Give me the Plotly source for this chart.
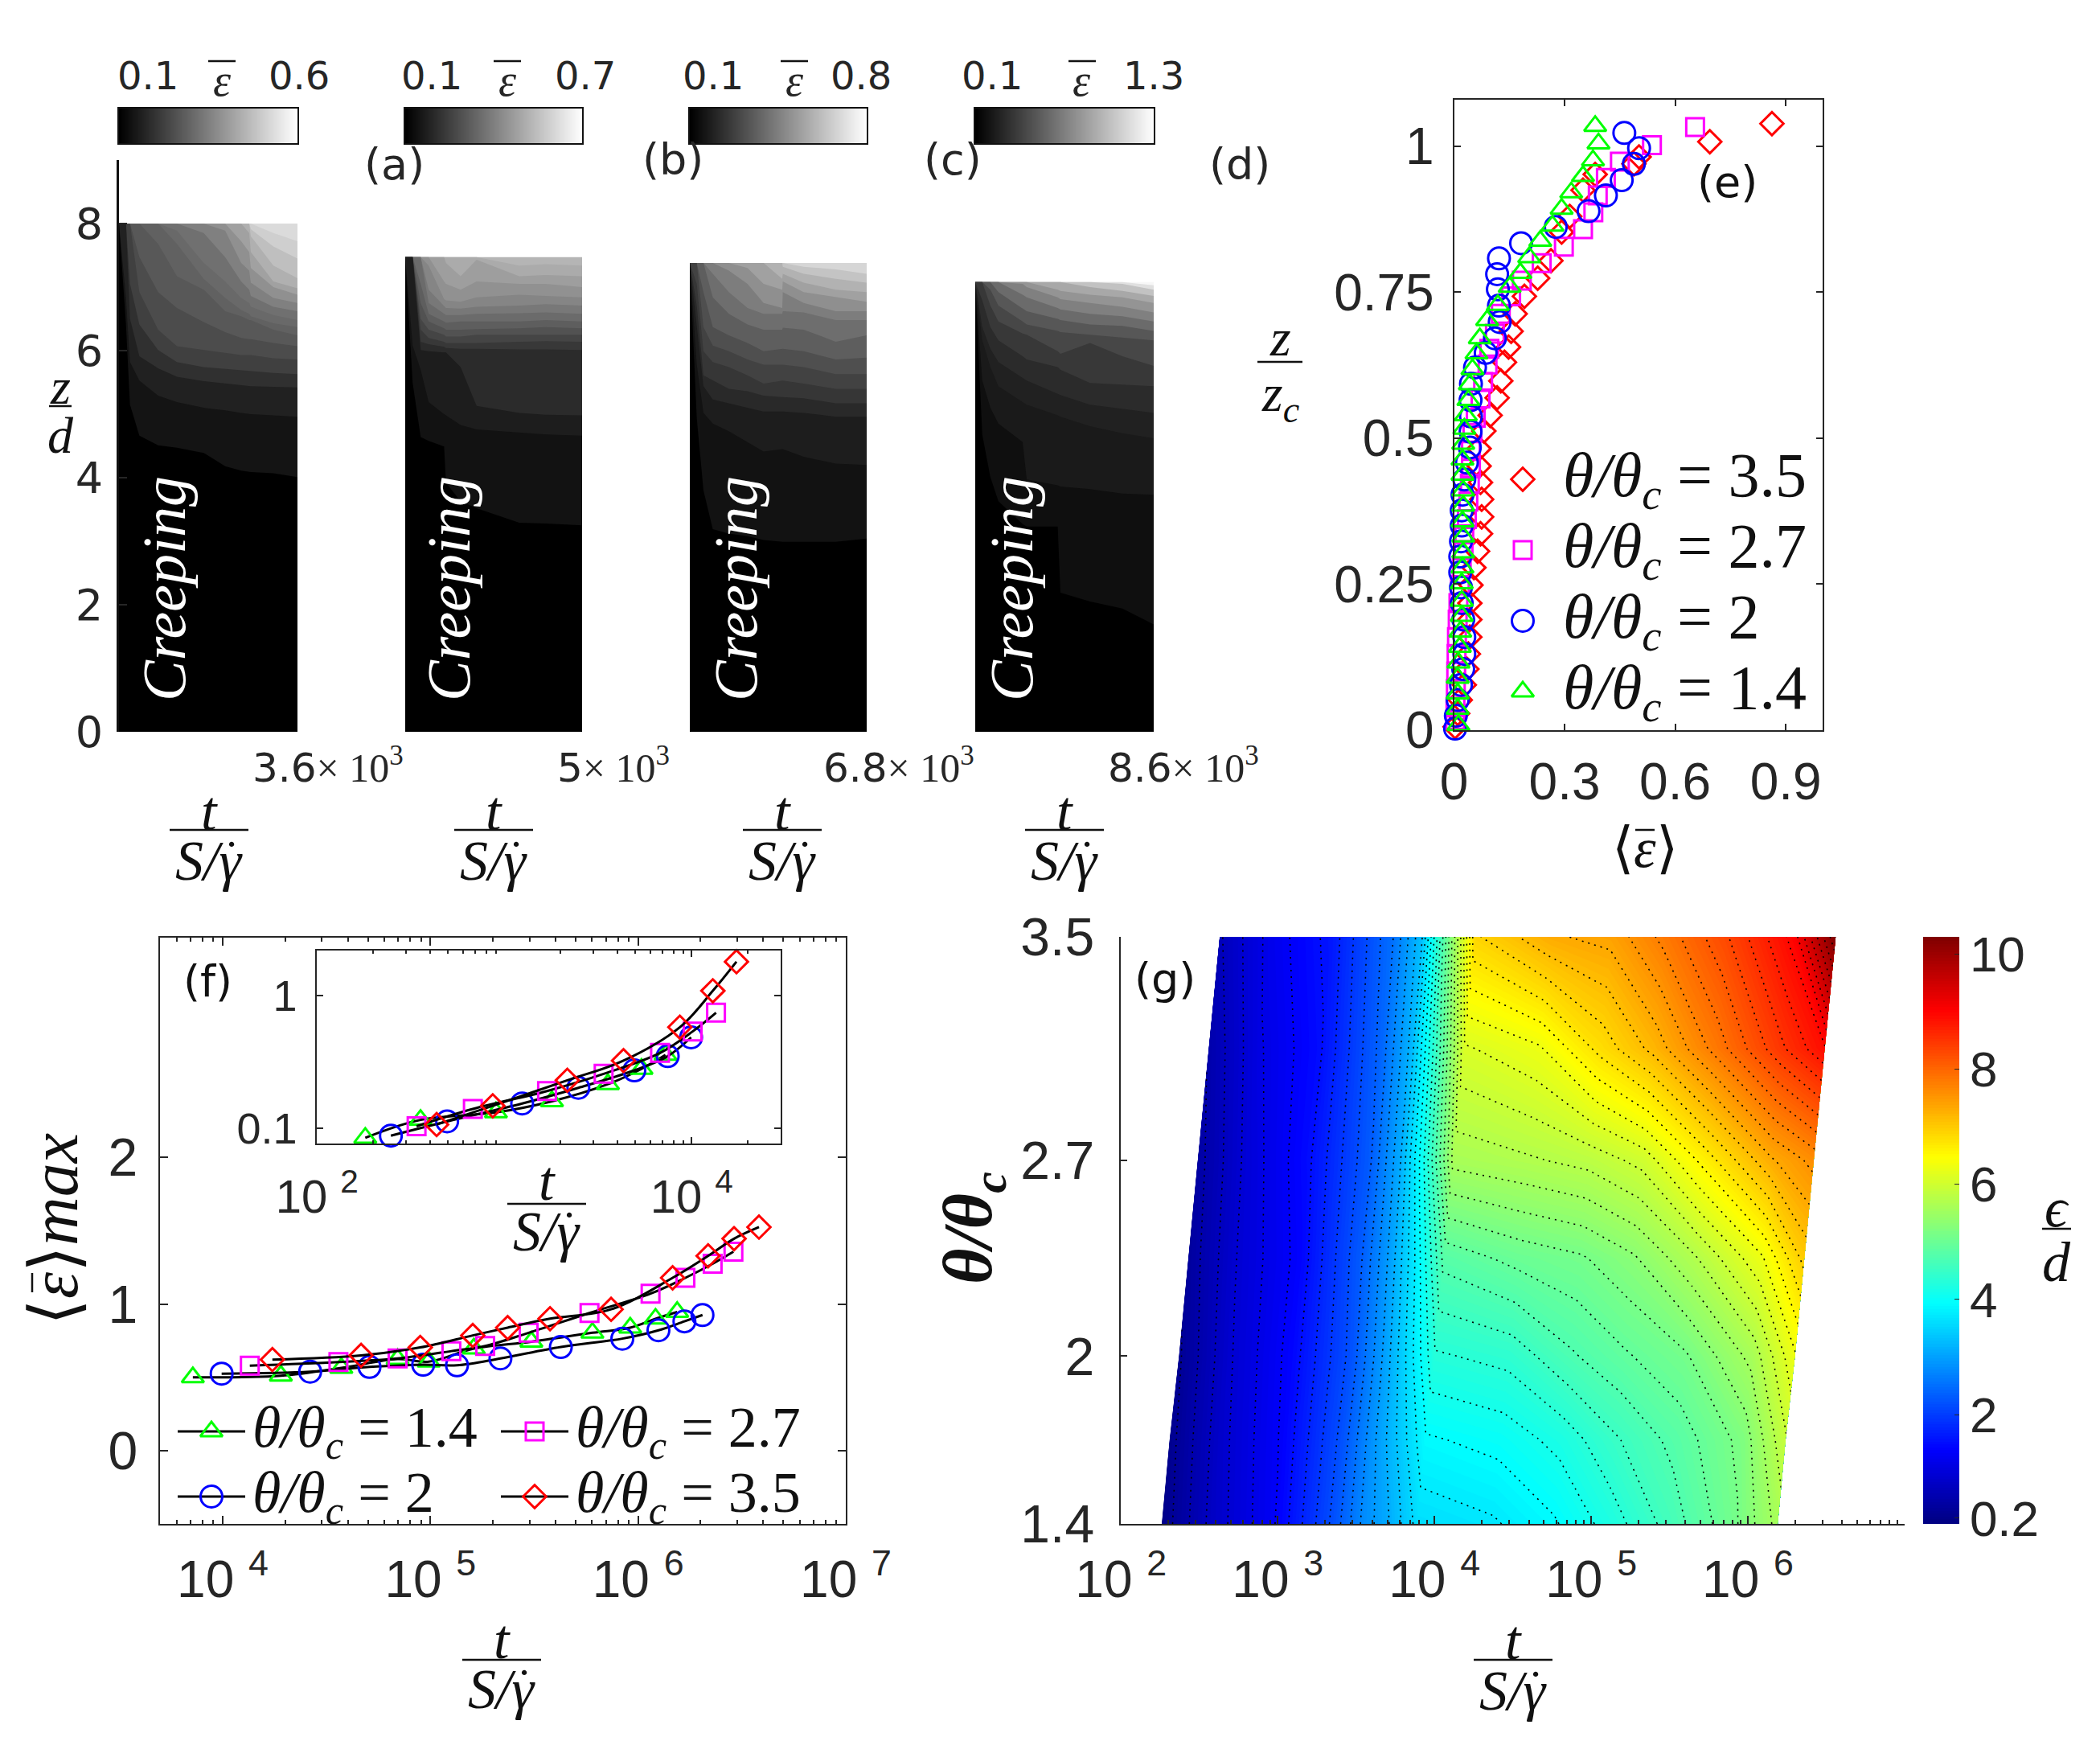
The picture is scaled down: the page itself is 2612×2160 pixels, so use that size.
import numpy as np
import plotly.graph_objects as go

W, H = 2612, 2160
OFF = 8  # margem padrao do body da pagina
INK = "#262626"
SANS = "Liberation Sans"
DEJA = "DejaVu Sans"
SERIF = "Liberation Serif"
RED, MAG, BLUE, GREEN = "#ff0000", "#ff00ff", "#0000ff", "#00ff00"

# Paineis (a)-(d): tempo, alturas das fronteiras entre faixas de cinza, tom de cada faixa
a_t = [0, 141, 222, 411, 789, 1168, 1708, 2141, 2465, 2627, 2659, 3114, 3600]
a_top = [8.0] * 13
a_bounds = [
    [8.0, 6.41, 5.15, 4.66, 4.51, 4.47, 4.39, 4.18, 4.11, 4.09, 4.09, 4.07, 4.01],
    [8.0, 6.83, 5.82, 5.53, 5.29, 5.19, 5.10, 5.06, 5.02, 5.00, 5.00, 4.98, 4.96],
    [8.0, 8.0, 6.50, 5.91, 5.72, 5.59, 5.52, 5.48, 5.45, 5.44, 5.44, 5.43, 5.42],
    [8.0, 8.0, 7.05, 6.41, 6.01, 5.82, 5.74, 5.71, 5.69, 5.68, 5.68, 5.65, 5.63],
    [8.0, 8.0, 8.0, 6.92, 6.33, 6.07, 6.01, 5.97, 5.93, 5.93, 5.93, 5.88, 5.86],
    [8.0, 8.0, 8.0, 7.47, 6.92, 6.67, 6.45, 6.29, 6.20, 6.18, 6.18, 6.12, 6.07],
    [8.0, 8.0, 8.0, 8.0, 7.68, 7.17, 6.96, 6.62, 6.54, 6.48, 6.48, 6.33, 6.24],
    [8.0, 8.0, 8.0, 8.0, 8.0, 7.68, 7.13, 6.83, 6.64, 6.58, 6.54, 6.43, 6.37],
    [8.0, 8.0, 8.0, 8.0, 8.0, 7.89, 7.38, 7.09, 6.83, 6.75, 6.69, 6.56, 6.48],
    [8.0, 8.0, 8.0, 8.0, 8.0, 8.0, 7.85, 7.47, 7.09, 6.96, 6.86, 6.69, 6.62],
    [8.0, 8.0, 8.0, 8.0, 8.0, 8.0, 8.0, 7.89, 7.38, 7.26, 7.07, 6.83, 6.75],
    [8.0, 8.0, 8.0, 8.0, 8.0, 8.0, 8.0, 8.0, 7.72, 7.55, 7.30, 7.00, 6.88],
    [8.0, 8.0, 8.0, 8.0, 8.0, 8.0, 8.0, 8.0, 8.0, 7.85, 7.55, 7.09, 6.98],
    [8.0, 8.0, 8.0, 8.0, 8.0, 8.0, 8.0, 8.0, 8.0, 8.0, 7.80, 7.34, 7.14],
    [8.0, 8.0, 8.0, 8.0, 8.0, 8.0, 8.0, 8.0, 8.0, 8.0, 7.91, 7.64, 7.45],
    [8.0, 8.0, 8.0, 8.0, 8.0, 8.0, 8.0, 8.0, 8.0, 8.0, 8.0, 7.85, 7.72],
]
a_shades = [0, .08, .13, .19, .25, .30, .345, .38, .41, .44, .50, .565, .63, .69, .75, .81, .86]

b_t = [0, 211, 437, 663, 1099, 1152, 1566, 2018, 3223, 3976, 5000]
b_top = [7.47] * 11
b_bounds = [
    [7.47, 5.49, 4.64, 4.58, 4.49, 3.92, 3.63, 3.52, 3.29, 3.28, 3.25],
    [7.47, 6.08, 5.70, 5.19, 5.00, 4.98, 4.83, 4.76, 4.71, 4.68, 4.66],
    [7.47, 7.47, 6.01, 5.99, 5.97, 5.97, 5.74, 5.13, 5.02, 4.99, 4.98],
    [7.47, 7.47, 6.14, 6.10, 6.06, 6.04, 6.03, 6.03, 6.02, 6.02, 6.01],
    [7.47, 7.47, 6.33, 6.20, 6.14, 6.12, 6.12, 6.12, 6.14, 6.15, 6.14],
    [7.47, 7.47, 6.50, 6.33, 6.25, 6.22, 6.22, 6.25, 6.25, 6.25, 6.25],
    [7.47, 7.47, 6.75, 6.46, 6.35, 6.33, 6.33, 6.34, 6.35, 6.37, 6.35],
    [7.47, 7.47, 7.05, 6.58, 6.46, 6.44, 6.46, 6.46, 6.46, 6.48, 6.46],
    [7.47, 7.47, 7.47, 6.75, 6.58, 6.56, 6.56, 6.58, 6.59, 6.60, 6.58],
    [7.47, 7.47, 7.47, 6.96, 6.69, 6.67, 6.66, 6.69, 6.71, 6.73, 6.71],
    [7.47, 7.47, 7.47, 7.34, 6.81, 6.79, 6.77, 6.84, 6.88, 6.86, 6.84],
    [7.47, 7.47, 7.47, 7.47, 7.09, 7.05, 6.96, 7.09, 7.05, 7.05, 7.00],
    [7.47, 7.47, 7.47, 7.47, 7.47, 7.38, 7.17, 7.43, 7.17, 7.19, 7.17],
    [7.47, 7.47, 7.47, 7.47, 7.47, 7.47, 7.47, 7.47, 7.34, 7.36, 7.34],
]
b_shades = [0, .07, .115, .17, .22, .27, .32, .37, .42, .47, .52, .57, .62, .67, .71]

c_t = [0, 267, 524, 883, 1500, 2219, 2835, 3554, 3575, 4376, 5609, 6800]
c_top = [7.38] * 12
c_bounds = [
    [7.38, 4.94, 3.80, 3.19, 3.12, 3.08, 3.02, 2.99, 2.99, 2.99, 2.99, 3.04],
    [7.38, 5.78, 5.02, 4.85, 4.73, 4.56, 4.41, 4.45, 4.45, 4.33, 4.22, 4.20],
    [7.38, 6.41, 5.44, 5.23, 5.17, 5.10, 5.04, 5.04, 5.04, 5.02, 4.96, 4.96],
    [7.38, 6.71, 5.61, 5.53, 5.40, 5.36, 5.29, 5.27, 5.27, 5.25, 5.17, 5.17],
    [7.38, 7.05, 5.99, 5.82, 5.74, 5.61, 5.48, 5.53, 5.53, 5.48, 5.40, 5.40],
    [7.38, 7.38, 6.37, 6.08, 5.99, 5.86, 5.78, 5.78, 5.78, 5.74, 5.63, 5.63],
    [7.38, 7.38, 6.92, 6.37, 6.24, 6.12, 5.99, 6.03, 6.03, 5.99, 5.86, 5.89],
    [7.38, 7.38, 7.38, 6.84, 6.58, 6.41, 6.33, 6.33, 6.36, 6.33, 6.14, 6.24],
    [7.38, 7.38, 7.38, 7.21, 6.92, 6.67, 6.58, 6.58, 6.62, 6.60, 6.48, 6.48],
    [7.38, 7.38, 7.38, 7.38, 7.26, 7.05, 6.75, 6.67, 6.92, 6.75, 6.62, 6.62],
    [7.38, 7.38, 7.38, 7.38, 7.38, 7.30, 7.05, 6.96, 7.09, 6.92, 6.84, 6.77],
    [7.38, 7.38, 7.38, 7.38, 7.38, 7.38, 7.38, 7.13, 7.21, 7.07, 6.96, 6.92],
    [7.38, 7.38, 7.38, 7.38, 7.38, 7.38, 7.38, 7.38, 7.32, 7.21, 7.13, 7.07],
    [7.38, 7.38, 7.38, 7.38, 7.38, 7.38, 7.38, 7.38, 7.38, 7.32, 7.28, 7.21],
]
c_shades = [0, .07, .115, .16, .21, .26, .31, .37, .43, .49, .56, .63, .70, .77, .84]

d_t = [0, 338, 728, 1117, 2286, 2481, 3975, 4105, 5534, 7093, 8600]
d_top = [7.08] * 11
d_bounds = [
    [7.08, 4.68, 4.01, 3.63, 3.27, 3.23, 3.23, 2.19, 2.05, 1.94, 1.69],
    [7.08, 5.53, 5.10, 4.85, 4.56, 3.97, 3.88, 3.86, 3.82, 3.75, 3.73],
    [7.08, 6.16, 5.74, 5.44, 5.19, 5.15, 4.98, 4.96, 4.81, 4.70, 4.62],
    [7.08, 6.37, 6.03, 5.82, 5.57, 5.53, 5.32, 5.30, 5.15, 5.08, 5.02],
    [7.08, 6.79, 6.37, 6.16, 5.91, 5.86, 5.74, 5.70, 5.49, 5.46, 5.44],
    [7.08, 7.08, 6.71, 6.46, 6.27, 6.25, 5.99, 5.95, 6.12, 5.91, 5.76],
    [7.08, 7.08, 6.96, 6.71, 6.46, 6.41, 6.31, 6.29, 6.25, 6.20, 6.16],
    [7.08, 7.08, 7.08, 6.92, 6.67, 6.62, 6.50, 6.48, 6.41, 6.39, 6.31],
    [7.08, 7.08, 7.08, 7.08, 6.88, 6.84, 6.67, 6.65, 6.58, 6.54, 6.46],
    [7.08, 7.08, 7.08, 7.08, 7.05, 7.00, 6.84, 6.81, 6.75, 6.69, 6.60],
    [7.08, 7.08, 7.08, 7.08, 7.08, 7.08, 6.96, 6.94, 6.88, 6.84, 6.75],
    [7.08, 7.08, 7.08, 7.08, 7.08, 7.08, 7.08, 7.08, 7.00, 6.94, 6.86],
    [7.08, 7.08, 7.08, 7.08, 7.08, 7.08, 7.08, 7.08, 7.08, 7.05, 6.96],
    [7.08, 7.08, 7.08, 7.08, 7.08, 7.08, 7.08, 7.08, 7.08, 7.08, 7.03],
]
d_shades = [0, .06, .10, .13, .17, .22, .28, .34, .42, .50, .58, .66, .76, .88, .97]

cbar_hi = [0.6, 0.7, 0.8, 1.3]
end_labels = ["3.6", "5", "6.8", "8.6"]

# Painel (e)
e35_x = [.8625, .694, .502, .488, .383, .350, .314, .292, .263, .227, .191, .166, .155, .148, .137, .127, .117, .098, .081, .068, .068, .072, .075, .075, .072, .064, .054, .046, .043, .043, .043, .039, .035, .028, .017, .010, .003]
e35_y = [1.039, 1.008, .982, .970, .952, .925, .880, .853, .804, .774, .743, .713, .683, .656, .630, .598, .569, .539, .512, .482, .452, .424, .395, .365, .336, .306, .278, .248, .217, .189, .159, .130, .104, .077, .051, .028, .005]
e27_x = [.654, .537, .450, .412, .390, .378, .350, .298, .238, .184, .155, .127, .111, .096, .091, .079, .072, .059, .050, .046, .046, .043, .039, .035, .028, .026, .021, .016, .012, .010, .008, .007, .006, .005, .004, .003]
e27_y = [1.033, 1.002, .974, .946, .916, .887, .858, .828, .800, .770, .743, .713, .679, .653, .626, .596, .568, .535, .509, .478, .448, .422, .391, .361, .335, .308, .278, .248, .217, .189, .159, .130, .100, .070, .039, .017]
e20_x = [.462, .502, .488, .455, .412, .365, .276, .182, .122, .117, .119, .122, .124, .111, .086, .057, .046, .045, .046, .045, .043, .035, .028, .023, .021, .021, .019, .017, .017, .019, .021, .025, .028, .028, .025, .019, .010, .005, .003]
e20_y = [1.023, .997, .970, .942, .916, .889, .862, .834, .808, .781, .755, .727, .699, .671, .646, .621, .593, .565, .537, .511, .484, .458, .429, .403, .376, .350, .323, .297, .270, .244, .217, .189, .159, .130, .104, .077, .051, .024, .002]
e14_x = [.383, .392, .377, .350, .318, .292, .267, .234, .204, .180, .151, .119, .090, .070, .061, .050, .043, .039, .032, .028, .025, .023, .023, .025, .025, .023, .025, .025, .023, .021, .021, .021, .017, .016, .012, .010, .010, .010, .012]
e14_y = [1.035, 1.005, .976, .949, .921, .893, .864, .838, .810, .783, .759, .728, .702, .671, .645, .618, .592, .565, .539, .516, .490, .463, .437, .410, .384, .357, .331, .304, .278, .251, .221, .195, .168, .142, .115, .089, .062, .036, .008]

# Painel (f), principal
f14_x = [7180, 19050, 37240, 69500, 98200, 161800, 306200, 602600, 916200, 1213000, 1542000]
f14_y = [.500, .511, .564, .625, .607, .696, .743, .804, .839, .900, .946]
f20_x = [9880, 26360, 50900, 92300, 134300, 217300, 424600, 839500, 1253000, 1671000, 2042000]
f20_y = [.525, .539, .571, .586, .582, .629, .707, .764, .821, .882, .925]
f27_x = [13500, 36060, 69500, 126200, 183600, 297200, 583400, 1148000, 1690000, 2286000, 2877000]
f27_y = [.579, .604, .629, .679, .714, .804, .939, 1.071, 1.179, 1.275, 1.357]
f35_x = [17340, 46350, 89330, 159900, 235500, 376700, 741300, 1466000, 2173000, 2897000, 3819000]
f35_y = [.621, .650, .704, .786, .839, .900, .964, 1.179, 1.329, 1.446, 1.525]

# Painel (f), inserido
i14_x = [181, 357, 902, 1795, 3573, 5395, 7244]
i14_y = [.0851, .116, .132, .160, .215, .280, .357]
i20_x = [248, 495, 1245, 2484, 4943, 7450, 9930]
i20_y = [.0883, .113, .154, .202, .273, .349, .483]
i27_x = [340, 679, 1690, 3388, 6776, 10120, 13490]
i27_y = [.104, .140, .191, .257, .369, .535, .740]
i35_x = [435, 867, 2168, 4325, 8650, 12970, 17340]
i35_y = [.107, .148, .230, .323, .576, 1.08, 1.786]

# Painel (g): log10(t) e epsilon/d em cada no da malha inclinada
g_theta = [1.4, 1.7, 2.0, 2.35, 2.7, 3.1, 3.5]
g_logt = [
    [2.26, 2.58, 2.97, 3.36, 3.55, 3.70, 3.89, 4.37, 4.76, 5.10, 5.49, 5.92, 6.19],
    [2.31, 2.63, 3.02, 3.41, 3.60, 3.75, 3.94, 4.42, 4.81, 5.15, 5.54, 5.97, 6.24],
    [2.37, 2.69, 3.08, 3.47, 3.66, 3.81, 4.00, 4.48, 4.87, 5.21, 5.60, 6.03, 6.30],
    [2.43, 2.75, 3.14, 3.53, 3.72, 3.87, 4.06, 4.54, 4.93, 5.27, 5.66, 6.09, 6.36],
    [2.49, 2.81, 3.20, 3.59, 3.78, 3.93, 4.12, 4.60, 4.99, 5.33, 5.72, 6.15, 6.42],
    [2.56, 2.88, 3.27, 3.66, 3.85, 4.00, 4.19, 4.67, 5.06, 5.40, 5.79, 6.22, 6.49],
    [2.63, 2.95, 3.34, 3.73, 3.92, 4.07, 4.26, 4.74, 5.13, 5.47, 5.86, 6.29, 6.56],
]
g_eps = [
    [.20, .80, 1.30, 2.20, 2.80, 3.10, 3.60, 3.70, 3.90, 4.20, 4.60, 5.10, 5.60],
    [.25, .85, 1.35, 2.20, 2.85, 3.30, 3.90, 4.00, 4.20, 4.50, 4.80, 5.20, 5.90],
    [.30, .90, 1.40, 2.20, 2.90, 3.50, 4.30, 4.40, 4.70, 4.90, 5.10, 5.60, 6.30],
    [.40, .95, 1.40, 2.30, 3.00, 3.70, 4.80, 5.00, 5.10, 5.30, 5.70, 6.30, 7.00],
    [.45, 1.00, 1.50, 2.30, 3.10, 4.10, 5.60, 5.70, 5.80, 6.00, 6.60, 7.30, 7.60],
    [.55, 1.10, 1.50, 2.40, 3.20, 4.40, 6.10, 6.30, 6.80, 7.20, 7.80, 8.50, 8.90],
    [.70, 1.20, 1.60, 2.50, 3.30, 4.90, 6.90, 7.30, 7.40, 7.80, 8.30, 9.00, 10.30],
]
g_ticks_y = [1.4, 2, 2.7, 3.5]
jet = [[0, "rgb(0,0,131)"], [.125, "rgb(0,0,255)"], [.375, "rgb(0,255,255)"],
       [.625, "rgb(255,255,0)"], [.875, "rgb(255,0,0)"], [1, "rgb(128,0,0)"]]

fig = go.Figure()
layout = {}
n_axes = 0


def new_axes(x0, x1, y0, y1, xopts, yopts, shift=True):
    # caixa em pixels da pagina -> dominio do eixo
    global n_axes
    n_axes += 1
    off = OFF if shift else 0
    xa = dict(domain=[(x0 - off) / W, (x1 - off) / W], anchor=f"y{n_axes}", showgrid=False, zeroline=False, **xopts)
    ya = dict(domain=[1 - (y1 - off) / H, 1 - (y0 - off) / H], anchor=f"x{n_axes}", showgrid=False, zeroline=False, **yopts)
    layout[f"xaxis{n_axes}"] = xa
    layout[f"yaxis{n_axes}"] = ya
    return f"x{n_axes}", f"y{n_axes}"


notes = []
lines = []


def text(x, y, s, size=46, font=DEJA, color=INK, anchor="center", angle=0):
    notes.append(dict(x=(x - OFF) / W, y=1 - (y - OFF) / H, xref="paper", yref="paper", text=s, showarrow=False,
                      xanchor=anchor, yanchor="middle", textangle=angle,
                      font=dict(size=size, family=font, color=color)))


def rule(x0, y0, x1, y1, width=2.5):
    lines.append(dict(type="line", xref="paper", yref="paper", x0=(x0 - OFF) / W, x1=(x1 - OFF) / W,
                      y0=1 - (y0 - OFF) / H, y1=1 - (y1 - OFF) / H, line=dict(color="#111111", width=width)))


def frac(cx, ytop, yline, ybot, half, top, bottom, size=70):
    text(cx, ytop, top, size=size, font=SERIF, color="#111111")
    text(cx, ybot, bottom, size=size, font=SERIF, color="#111111")
    rule(cx - half, yline, cx + half, yline)


def time_frac(cx, ytop, yline, ybot):
    # t / (S / gamma ponto); o ponto vai como texto proprio para ficar sobre o gama
    frac(cx, ytop, yline, ybot, 49, "<i>t</i>", "<i>S/\u03b3</i>")
    text(cx + 28, ybot - 4, "\u02d9", size=60, font=SERIF, color="#111111")


EPS = "<i>\u03b5</i>"
BOX = dict(showline=True, linecolor=INK, linewidth=2, mirror="ticks", ticks="inside",
           tickcolor=INK, tickwidth=2)

# Paineis (a)-(d)
panels = [
    (a_t, a_top, a_bounds, a_shades, 148, 370),
    (b_t, b_top, b_bounds, b_shades, 504, 724),
    (c_t, c_top, c_bounds, c_shades, 858, 1078),
    (d_t, d_top, d_bounds, d_shades, 1213, 1435),
]
cbar_text_x = [(184, 276, 372), (537, 631, 728), (887, 988, 1071), (1234, 1346, 1435)]
end_x = [504, 835, 1214, 1568]
frac_x = [260, 614, 973, 1324]
creep_x = [204, 558, 915, 1258]
for k, (t, top, bounds, shades, x0, x1) in enumerate(panels):
    if k == 0:
        yo = dict(range=[0, 9], tickvals=[0, 2, 4, 6, 8], showline=True, linecolor="#111111", linewidth=3,
                  ticks="inside", ticklen=10, tickcolor=INK, tickwidth=2,
                  tickfont=dict(size=54, family=DEJA, color=INK), ticklabelstandoff=6)
    else:
        yo = dict(range=[0, 9], visible=False)
    xa, ya = new_axes(x0, x1, 199, 910, dict(range=[0, t[-1]], visible=False), yo)
    rows = [top] + bounds[::-1]
    for row, shade in zip(rows, shades[::-1]):
        v = int(round(shade * 255))
        fig.add_trace(go.Scatter(x=t, y=row, mode="lines", fill="tozeroy", xaxis=xa, yaxis=ya,
                                 line=dict(width=0, color=f"rgb({v},{v},{v})"),
                                 fillcolor=f"rgb({v},{v},{v})", showlegend=False, hoverinfo="skip"))
    # barra de cores do painel
    hi = cbar_hi[k]
    xa, ya = new_axes(x0, x1, 135, 178,
                      dict(range=[0.1, hi], showline=True, linecolor="#111111", linewidth=2, mirror=True, showticklabels=False, ticks=""),
                      dict(range=[0, 1], showline=True, linecolor="#111111", linewidth=2, mirror=True, showticklabels=False, ticks=""))
    fig.add_trace(go.Heatmap(x=[0.1, hi], y=[0, 1], z=[[0.1, hi], [0.1, hi]], zsmooth="best", showscale=False,
                             colorscale=[[0, "black"], [1, "white"]], xaxis=xa, yaxis=ya, hoverinfo="skip"))
    tx = cbar_text_x[k]
    text(tx[0], 94, "0.1", size=48)
    text(tx[1], 100, EPS, size=56, font=SERIF)
    rule(tx[1] - 17, 76, tx[1] + 17, 76, width=2.5)
    text(tx[2], 94, f"{hi}", size=48)
    text(end_x[k], 952, f'{end_labels[k]}<span style="font-family:{SERIF}">\u00d7 10<sup>3</sup></span>', size=50, anchor="right")
    time_frac(frac_x[k], 1008, 1032, 1070)
    text(creep_x[k], 732, "<i>Creeping</i>", size=76, font=SERIF, color="white", angle=-90)

frac(75, 481, 505, 541, 14, "<i>z</i>", "<i>d</i>", size=64)
text(490, 204, "(a)", size=54)
text(837, 198, "(b)", size=54)
text(1185, 198, "(c)", size=54)
text(1542, 204, "(d)", size=54)

# Painel (e)
xa, ya = new_axes(1808.5, 2267, 124, 907.5,
                  dict(range=[0, 1], tickvals=[0, .3, .6, .9], ticktext=["0", "0.3", "0.6", "0.9"], ticklen=8,
                       tickfont=dict(size=64, family=SANS, color=INK), ticklabelstandoff=8, **BOX),
                  dict(range=[0, 1.08], tickvals=[0, .25, .5, .75, 1], ticktext=["0", "0.25", "0.5", "0.75", "1"], ticklen=8,
                       tickfont=dict(size=64, family=SANS, color=INK), ticklabelstandoff=10, **BOX))
e_series = [(e35_x, e35_y, "diamond-open", RED, 22), (e27_x, e27_y, "square-open", MAG, 22),
            (e20_x, e20_y, "circle-open", BLUE, 27), (e14_x, e14_y, "triangle-up-open", GREEN, 24)]
for sx, sy, sym, col, ms in e_series:
    fig.add_trace(go.Scatter(x=sx, y=sy, mode="markers", xaxis=xa, yaxis=ya, cliponaxis=False, showlegend=False,
                             marker=dict(symbol=sym, color=col, size=ms, line=dict(width=3, color=col))))
text(2148, 226, "(e)", size=54, font=DEJA, color="#111111")
frac(1592, 419, 450, 494, 28, "<i>z</i>", "<i>z<sub>c</sub></i>", size=66)
text(2046, 1054, f"\u27e8{EPS}\u27e9", size=70, font=SERIF, color="#111111")
rule(2034, 1032, 2058, 1032)

# Painel (f)
minor_f = [m * 10 ** e for e in range(3, 7) for m in range(2, 10) if m * 10 ** e > 4964]
xa, ya = new_axes(198.5, 1052, 1166, 1895,
                  dict(type="log", range=[3.696, 7], tickvals=[1e4, 1e5, 1e6, 1e7],
                       ticktext=["10 <sup>4</sup>", "10 <sup>5</sup>", "10 <sup>6</sup>", "10 <sup>7</sup>"], ticklen=10,
                       minor=dict(ticks="inside", ticklen=5, tickvals=minor_f, tickcolor=INK, tickwidth=1.5),
                       tickfont=dict(size=64, family=SANS, color=INK), ticklabelstandoff=12, **BOX),
                  dict(range=[-.5, 3.5], tickvals=[0, 1, 2], ticklen=10,
                       tickfont=dict(size=66, family=SANS, color=INK), ticklabelstandoff=12, **BOX))
f_series = [(f14_x, f14_y, "triangle-up-open", GREEN, 24), (f20_x, f20_y, "circle-open", BLUE, 27),
            (f27_x, f27_y, "square-open", MAG, 22), (f35_x, f35_y, "diamond-open", RED, 22)]
for sx, sy, sym, col, ms in f_series:
    fig.add_trace(go.Scatter(x=sx, y=sy, mode="lines+markers", xaxis=xa, yaxis=ya, cliponaxis=False, showlegend=False,
                             line=dict(color="black", width=3, shape="spline"),
                             marker=dict(symbol=sym, color=col, size=ms, line=dict(width=3, color=col))))
minor_i = [m * 10 ** e for e in range(2, 5) for m in range(2, 10) if m * 10 ** e < 29800]
xa, ya = new_axes(394.3, 971, 1182.3, 1422,
                  dict(type="log", range=[2, 4.475], tickvals=[1e2, 1e4], ticktext=["10 <sup>2</sup>", "10 <sup>4</sup>"], ticklen=8,
                       minor=dict(ticks="inside", ticklen=4, tickvals=minor_i, tickcolor=INK, tickwidth=1.5),
                       tickfont=dict(size=58, family=SANS, color=INK), ticklabelstandoff=14, **BOX),
                  dict(type="log", range=[-1.113, .334], tickvals=[.1, 1], ticktext=["0.1", "1"], ticklen=8,
                       tickfont=dict(size=54, family=SANS, color=INK), ticklabelstandoff=12, **BOX))
i_series = [(i14_x, i14_y, "triangle-up-open", GREEN, 24), (i20_x, i20_y, "circle-open", BLUE, 27),
            (i27_x, i27_y, "square-open", MAG, 22), (i35_x, i35_y, "diamond-open", RED, 22)]
for sx, sy, sym, col, ms in i_series:
    fig.add_trace(go.Scatter(x=sx, y=sy, mode="lines+markers", xaxis=xa, yaxis=ya, cliponaxis=False, showlegend=False,
                             line=dict(color="black", width=3, shape="spline"),
                             marker=dict(symbol=sym, color=col, size=ms, line=dict(width=3, color=col))))
text(258, 1220, "(f)", size=54, color="#111111")
time_frac(624, 2038, 2064, 2100)
time_frac(680, 1468, 1497, 1531)
text(67, 1528, f"\u27e8{EPS}\u27e9<i>max</i>", size=84, font=SERIF, color="#111111", angle=-90)
rule(40, 1583, 40, 1607)

# Painel (g)
minor_g = [float(np.log10(m * 10 ** e)) for e in range(2, 7) for m in range(2, 10)]
xa, ya = new_axes(1394.3, 2369, 1165, 1895,
                  dict(range=[2, 7], tickvals=[2, 3, 4, 5, 6],
                       ticktext=["10 <sup>2</sup>", "10 <sup>3</sup>", "10 <sup>4</sup>", "10 <sup>5</sup>", "10 <sup>6</sup>"],
                       showline=True, linecolor=INK, linewidth=2, ticks="inside", ticklen=10, tickcolor=INK, tickwidth=1.5,
                       minor=dict(ticks="inside", ticklen=5, tickvals=minor_g, tickcolor=INK, tickwidth=1.5),
                       tickfont=dict(size=64, family=SANS, color=INK), ticklabelstandoff=12),
                  dict(range=[1.4, 3.5], tickvals=g_ticks_y, ticktext=["1.4", "2", "2.7", "3.5"],
                       showline=True, linecolor=INK, linewidth=2, ticks="inside", ticklen=8, tickcolor=INK, tickwidth=1.5,
                       tickfont=dict(size=66, family=SANS, color=INK), ticklabelstandoff=18))
col_idx = list(range(len(g_logt[0])))
g_y = [[th] * len(col_idx) for th in g_theta]
fig.add_trace(go.Carpet(a=col_idx, b=g_theta, x=g_logt, y=g_y, carpet="g", xaxis=xa, yaxis=ya,
                        aaxis=dict(smoothing=0, showgrid=False, showticklabels="none", startline=False, endline=False, minorgridcount=0),
                        baxis=dict(smoothing=0, showgrid=False, showticklabels="none", startline=False, endline=False, minorgridcount=0)))
# niveis deslocados (.13, .18, ...) para nenhum valor da malha cair exatamente num nivel
fig.add_trace(go.Contourcarpet(a=col_idx, b=g_theta, z=g_eps, carpet="g", xaxis=xa, yaxis=ya, colorscale=jet,
                               autocontour=False, zmin=0.1, zmax=10.3,
                               contours=dict(start=0.13, end=10.3, size=0.05, coloring="fill"),
                               line=dict(width=0, smoothing=0),
                               colorbar=dict(x=(2392 - OFF) / W, xanchor="left", y=1 - (1895 - OFF) / H, yanchor="bottom",
                                             len=730 / H, lenmode="fraction", thickness=45, thicknessmode="pixels",
                                             xpad=0, ypad=0,
                                             tickvals=[0.2, 2, 4, 6, 8, 10], ticktext=["0.2", "2", "4", "6", "8", "10"],
                                             ticks="inside", ticklen=6, tickcolor=INK, outlinewidth=0,
                                             tickfont=dict(size=62, family=SANS, color=INK))))
fig.add_trace(go.Contourcarpet(a=col_idx, b=g_theta, z=g_eps, carpet="g", xaxis=xa, yaxis=ya, showscale=False,
                               autocontour=False, contours=dict(start=0.13, end=10.3, size=0.2, coloring="none"),
                               line=dict(color="black", width=1.6, dash="2px,6px", smoothing=0)))
text(1449, 1217, "(g)", size=54, color="#111111")
text(1210, 1527, "<b><i>\u03b8/\u03b8<sub>c</sub></i></b>", size=86, font=SERIF, color="#111111", angle=-90)
time_frac(1882, 2039, 2064, 2102)
frac(2558, 1501, 1528, 1569, 18, "<i>\u03f5</i>", "<i>d</i>")


def theta_label(v):
    return f"<i>\u03b8/\u03b8<sub>c</sub></i> = {v}"


# Eixo de sobreposicao em pixels: so para as chaves das legendas
xa, ya = new_axes(0, W, 0, H, dict(range=[OFF, W + OFF], visible=False), dict(range=[H + OFF, OFF], visible=False), shift=False)
e_keys = [("3.5", "diamond-open", RED, 22, 596), ("2.7", "square-open", MAG, 22, 684),
          ("2", "circle-open", BLUE, 27, 772), ("1.4", "triangle-up-open", GREEN, 24, 860)]
for lab, sym, col, ms, y in e_keys:
    fig.add_trace(go.Scatter(x=[1894], y=[y], mode="markers", xaxis=xa, yaxis=ya, showlegend=False,
                             marker=dict(symbol=sym, color=col, size=ms, line=dict(width=3, color=col))))
    text(1942, y, theta_label(lab), size=78, font=SERIF, color="#111111", anchor="left")
f_keys = [("1.4", "triangle-up-open", GREEN, 24, 221, 1780), ("2", "circle-open", BLUE, 27, 221, 1861),
          ("2.7", "square-open", MAG, 22, 623, 1780), ("3.5", "diamond-open", RED, 22, 623, 1861)]
for lab, sym, col, ms, x, y in f_keys:
    fig.add_trace(go.Scatter(x=[x, x + 42, x + 84], y=[y, y, y], mode="lines", xaxis=xa, yaxis=ya, showlegend=False,
                             line=dict(color="black", width=3)))
    fig.add_trace(go.Scatter(x=[x + 42], y=[y], mode="markers", xaxis=xa, yaxis=ya, showlegend=False,
                             marker=dict(symbol=sym, color=col, size=ms, line=dict(width=3, color=col))))
    text(x + 91, y, theta_label(lab), size=72, font=SERIF, color="#111111", anchor="left")

fig.update_layout(width=W, height=H, autosize=False, margin=dict(l=0, r=0, t=0, b=0, autoexpand=False), showlegend=False,
                  paper_bgcolor="white", plot_bgcolor="rgba(0,0,0,0)", annotations=notes, shapes=lines, **layout)
fig.write_html("out.html")
